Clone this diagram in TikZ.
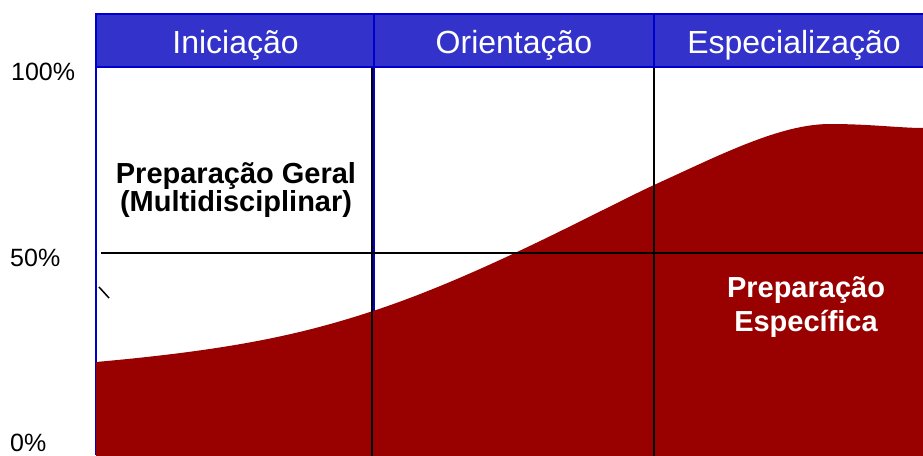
\documentclass[tikz,border=0pt]{standalone}
\usepackage{fontspec}
\setmainfont{Liberation Sans}
\usepackage{tikz}
\usetikzlibrary{positioning}
\definecolor{headblue}{HTML}{3333CC}
\definecolor{lineblue}{HTML}{0000CC}
\definecolor{darkred}{HTML}{990000}
\tikzstyle{phase}   = [text=white, font=\fontsize{32}{36}\selectfont, anchor=base]
\tikzstyle{percent} = [font=\fontsize{25}{28}\selectfont, anchor=base west, inner sep=0pt]
\tikzstyle{area}    = [font=\bfseries\fontsize{29}{26}\selectfont, align=center, inner sep=0pt]
\tikzstyle{grid}    = [black, line width=1.8pt]
\tikzstyle{bluegrid}= [lineblue, line width=2pt]

\begin{document}
\begin{tikzpicture}[x=1pt, y=-1pt]
    \useasboundingbox (0,0) rectangle (923,455);
    \clip (0,0) rectangle (923,455);

    % Blue borders of the first column (behind the curve)
    \draw [bluegrid] (96,67) -- (96,455);
    \draw [bluegrid] (374,67) -- (374,455);

    % Specific preparation area
    \fill [darkred] (96,362) .. controls (230,350) and (300,335) .. (373,311)
                             .. controls (480,276) and (600,210) .. (654,185)
                             .. controls (720,155) and (780,124) .. (830,124)
                             .. controls (870,124) and (900,128) .. (923,128)
                    -- (923,456) -- (96,456) -- cycle;

    % Grid lines
    \draw [grid] (372,67) -- (372,456);
    \draw [grid] (654,67) -- (654,456);
    \draw [black, line width=1.5pt] (101,253) -- (923,253);
    \draw [black, line width=1.5pt] (99,287) -- (109,298);

    % Header band
    \draw [fill=headblue, draw=lineblue, line width=2pt] (96,14) rectangle (940,66.5);
    \draw [lineblue, line width=2pt] (374,14) -- (374,66.5);
    \draw [lineblue, line width=2pt] (654,14) -- (654,66.5);

    % Nodes
    \node (iniciacao)      [phase] at (235.5,53) {Iniciação};
    \node (orientacao)     [phase] at (514,53)   {Orientação};
    \node (especializacao) [phase] at (794,53)   {Especialização};

    \node (p100) [percent] at (11,80)  {100\%};
    \node (p50)  [percent] at (10,266) {50\%};
    \node (p0)   [percent] at (10,451) {0\%};

    \node (geral)     [area]              at (236,190) {Preparação Geral\\(Multidisciplinar)};
    \node (especifica)[area, text=white, font=\bfseries\fontsize{29}{34}\selectfont] at (806,307) {Preparação\\Específica};
\end{tikzpicture}
\end{document}
